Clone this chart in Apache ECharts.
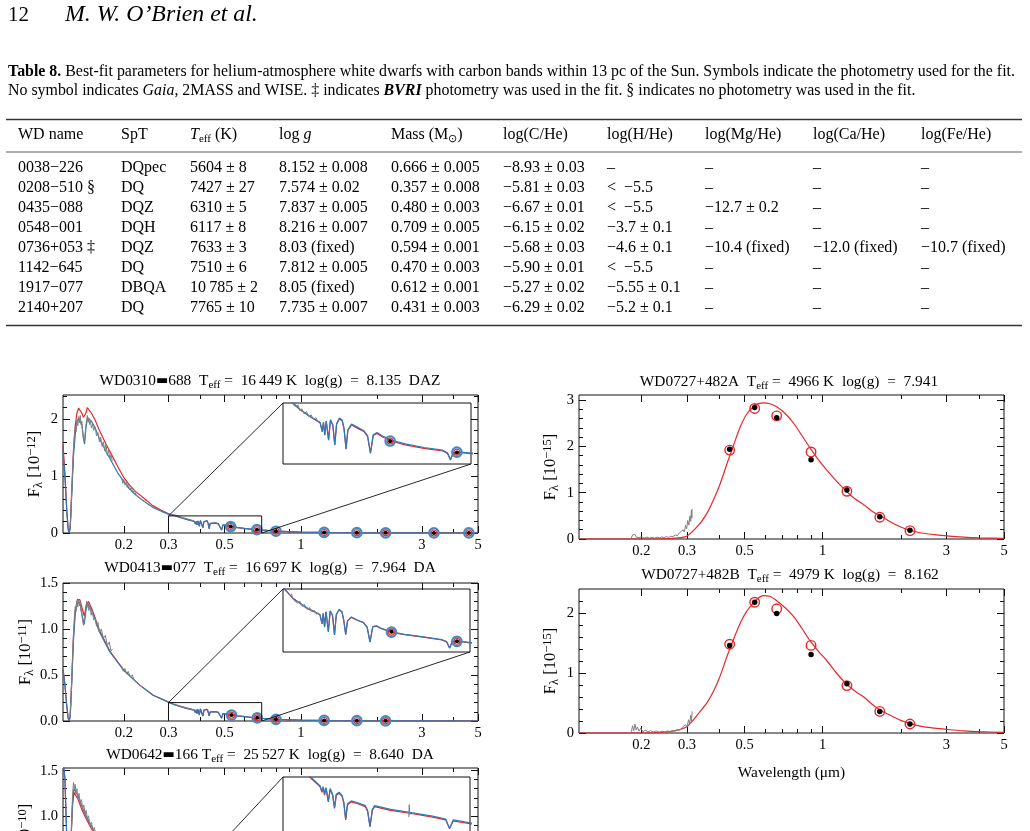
<!DOCTYPE html>
<html>
<head>
<meta charset="utf-8">
<title>Table 8 and SED fits</title>
<script src="https://cdn.jsdelivr.net/npm/echarts@6.0.0/dist/echarts.min.js"></script>
<style>
html, body { margin: 0; padding: 0; background: #fff; }
#main { width: 1030px; height: 831px; }
</style>
</head>
<body>
<div id="main"></div>
<script>
// ---- Table 8 ----
const tableHead = ['WD name', 'SpT', '{it|T}{s|eff} (K)', 'log {it|g}', 'Mass (M{s|⊙})', 'log(C/He)', 'log(H/He)', 'log(Mg/He)', 'log(Ca/He)', 'log(Fe/He)']
const wdNames = ['0038−226', '0208−510 §', '0435−088', '0548−001', '0736+053 ‡', '1142−645', '1917−077', '2140+207']
const spTypes = ['DQpec', 'DQ', 'DQZ', 'DQH', 'DQZ', 'DQ', 'DBQA', 'DQ']
const teffs = ['5604 ± 8', '7427 ± 27', '6310 ± 5', '6117 ± 8', '7633 ± 3', '7510 ± 6', '10\u2009785 ± 2', '7765 ± 10']
const loggs = ['8.152 ± 0.008', '7.574 ± 0.02', '7.837 ± 0.005', '8.216 ± 0.007', '8.03 (fixed)', '7.812 ± 0.005', '8.05 (fixed)', '7.735 ± 0.007']
const masses = ['0.666 ± 0.005', '0.357 ± 0.008', '0.480 ± 0.003', '0.709 ± 0.005', '0.594 ± 0.001', '0.470 ± 0.003', '0.612 ± 0.001', '0.431 ± 0.003']
const logCHe = ['−8.93 ± 0.03', '−5.81 ± 0.03', '−6.67 ± 0.01', '−6.15 ± 0.02', '−5.68 ± 0.03', '−5.90 ± 0.01', '−5.27 ± 0.02', '−6.29 ± 0.02']
const logHHe = ['–', '<  −5.5', '<  −5.5', '−3.7 ± 0.1', '−4.6 ± 0.1', '<  −5.5', '−5.55 ± 0.1', '−5.2 ± 0.1']
const logMgHe = ['–', '–', '−12.7 ± 0.2', '–', '−10.4 (fixed)', '–', '–', '–']
const logCaHe = ['–', '–', '–', '–', '−12.0 (fixed)', '–', '–', '–']
const logFeHe = ['–', '–', '–', '–', '−10.7 (fixed)', '–', '–', '–']

// ---- axis ticks shared by the SED panels ----
const xTickValues = [0.2, 0.3, 0.5, 1, 3, 5]
const xTickLabels = ['0.2', '0.3', '0.5', '1', '3', '5']
const xMinorValues = [0.4, 0.6, 0.7, 0.8, 0.9, 2, 4]
const yTicksA = [0, 1, 2]
const yLabelsA = ['0', '1', '2']
const yTicksB = [0, 0.5, 1, 1.5]
const yLabelsB = ['0.0', '0.5', '1.0', '1.5']
const yTicksC = [0, 1, 2, 3]
const yLabelsC = ['0', '1', '2', '3']

// ---- WD0310-688 ----
const wd0310Wave = [0.115, 0.117, 0.119, 0.1205, 0.1216, 0.1228, 0.124, 0.1265, 0.1285, 0.1305,
  0.1325, 0.1345, 0.1365, 0.1385, 0.140, 0.1415, 0.1435, 0.1455, 0.149, 0.154,
  0.160, 0.170, 0.179, 0.190, 0.200, 0.210, 0.222, 0.2415, 0.260, 0.281,
  0.300, 0.321, 0.336, 0.357, 0.370, 0.379, 0.3835, 0.386, 0.3889, 0.392,
  0.397, 0.401, 0.406, 0.4102, 0.414, 0.420, 0.426, 0.430, 0.4341, 0.438,
  0.446, 0.460, 0.472, 0.480, 0.4861, 0.492, 0.500, 0.512, 0.532, 0.560,
  0.600, 0.640, 0.650, 0.6563, 0.662, 0.672, 0.700, 0.800, 1.000, 1.300,
  2.000, 3.000, 5.000]
const wd0310Red = [1.55, 1.05, 0.42, 0.08, 0.0, 0.1, 0.55, 1.45, 1.88, 2.1,
  2.19, 2.18, 2.1, 2.03, 2.0, 2.1, 2.2, 2.18, 2.1, 1.98,
  1.80, 1.56, 1.37, 1.15, 0.97, 0.85, 0.73, 0.60, 0.48, 0.40,
  0.335, 0.300, 0.268, 0.234, 0.215, 0.202, 0.160, 0.204, 0.144, 0.210,
  0.120, 0.215, 0.190, 0.095, 0.195, 0.222, 0.212, 0.170, 0.075, 0.165,
  0.192, 0.174, 0.160, 0.135, 0.054, 0.140, 0.150, 0.133, 0.112, 0.094,
  0.077, 0.064, 0.052, 0.022, 0.052, 0.057, 0.051, 0.032, 0.017, 0.009,
  0.0035, 0.0012, 0.0004]
const wd0310Blue = [1.45, 0.98, 0.38, 0.06, 0.0, 0.08, 0.5, 1.35, 1.72, 1.93,
  2.02, 2.03, 1.9, 1.66, 1.56, 1.82, 2.02, 2.03, 1.96, 1.84,
  1.66, 1.43, 1.25, 1.04, 0.90, 0.78, 0.67, 0.55, 0.45, 0.38,
  0.33, 0.300, 0.268, 0.235, 0.217, 0.204, 0.158, 0.206, 0.142, 0.212,
  0.117, 0.218, 0.193, 0.093, 0.198, 0.226, 0.216, 0.173, 0.073, 0.168,
  0.196, 0.179, 0.164, 0.139, 0.052, 0.144, 0.155, 0.138, 0.117, 0.099,
  0.081, 0.068, 0.055, 0.020, 0.055, 0.060, 0.054, 0.033, 0.017, 0.009,
  0.0035, 0.0012, 0.0004]
const wd0310Obs = [
  [0.1225, 0.10], [0.1235, 0.30], [0.1245, 0.70], [0.1255, 1.10], [0.1265, 1.45], [0.1275, 1.70],
  [0.1285, 1.86], [0.1295, 1.78], [0.1305, 1.98], [0.1315, 1.88], [0.1325, 2.04], [0.1335, 1.93],
  [0.1345, 2.06], [0.1355, 1.90], [0.1365, 1.96], [0.1375, 1.78], [0.1385, 1.66], [0.1395, 1.60],
  [0.1405, 1.72], [0.1415, 1.88], [0.1425, 1.97], [0.1435, 2.06], [0.1445, 1.94], [0.1455, 2.02],
  [0.1465, 1.90], [0.1475, 1.97], [0.149, 1.84], [0.1505, 1.92], [0.152, 1.80], [0.154, 1.86],
  [0.156, 1.70], [0.158, 1.76], [0.160, 1.60], [0.162, 1.68], [0.164, 1.52], [0.166, 1.60],
  [0.168, 1.44], [0.170, 1.56], [0.172, 1.36], [0.174, 1.46], [0.176, 1.30], [0.178, 1.38],
  [0.180, 1.26], [0.185, null],
  [0.196, 0.96], [0.198, 0.87], [0.200, 0.94], [0.202, 0.84], [0.204, 0.90], [0.206, 0.80],
  [0.208, 0.87], [0.211, 0.76], [0.214, 0.80], [0.217, 0.71], [0.220, 0.75], [0.224, 0.66],
  [0.228, 0.69], [0.232, 0.60], [0.236, 0.63], [0.240, 0.55], [0.244, 0.57], [0.250, null],
  [0.316, 0.318], [0.320, 0.296], [0.324, 0.305], [0.328, 0.280], [0.332, 0.291], [0.336, 0.262],
  [0.340, 0.272], [0.345, 0.246], [0.350, 0.258], [0.355, 0.232], [0.360, 0.242], [0.365, 0.219],
  [0.370, 0.228], [0.375, 0.205], [0.379, 0.212]]
const wd0310PhotWave = [0.528, 0.670, 0.797, 1.235, 1.662, 2.159, 3.35, 4.6]
const wd0310PhotModel = [0.113, 0.058, 0.031, 0.010, 0.005, 0.0027, 0.0011, 0.0005]
const wd0310PhotObs = [0.112, 0.057, 0.030, 0.010, 0.005, 0.0028, 0.0011, 0.0005]

// ---- WD0413-077 ----
const wd0413Wave = [0.115, 0.117, 0.119, 0.1205, 0.1216, 0.1228, 0.124, 0.1265, 0.1285, 0.131,
  0.134, 0.137, 0.1395, 0.142, 0.145, 0.150, 0.160, 0.176, 0.200, 0.231,
  0.261, 0.300, 0.321, 0.350, 0.379, 0.3835, 0.386, 0.3889, 0.392, 0.397,
  0.401, 0.406, 0.4102, 0.414, 0.420, 0.426, 0.430, 0.4341, 0.438, 0.446,
  0.460, 0.472, 0.480, 0.4861, 0.492, 0.500, 0.512, 0.534, 0.560, 0.600,
  0.640, 0.650, 0.6563, 0.662, 0.676, 0.700, 0.800, 1.000, 1.300, 2.000,
  3.000, 5.000]
const wd0413Red = [0.56, 0.40, 0.17, 0.04, 0.0, 0.06, 0.32, 0.92, 1.20, 1.32,
  1.32, 1.22, 1.14, 1.26, 1.30, 1.21, 0.99, 0.76, 0.55, 0.39,
  0.28, 0.205, 0.171, 0.140, 0.118, 0.090, 0.122, 0.080, 0.127, 0.066,
  0.130, 0.115, 0.055, 0.118, 0.134, 0.127, 0.100, 0.056, 0.098, 0.110,
  0.100, 0.093, 0.078, 0.032, 0.080, 0.082, 0.073, 0.062, 0.055, 0.047,
  0.038, 0.032, 0.013, 0.032, 0.034, 0.029, 0.018, 0.009, 0.0045, 0.0017,
  0.0006, 0.0002]
const wd0413Blue = [0.55, 0.39, 0.16, 0.03, 0.0, 0.05, 0.30, 0.88, 1.16, 1.28,
  1.29, 1.14, 1.05, 1.22, 1.27, 1.19, 0.97, 0.75, 0.55, 0.39,
  0.28, 0.205, 0.171, 0.141, 0.119, 0.089, 0.123, 0.079, 0.128, 0.064,
  0.131, 0.116, 0.054, 0.119, 0.135, 0.128, 0.101, 0.055, 0.099, 0.111,
  0.101, 0.094, 0.079, 0.031, 0.081, 0.083, 0.074, 0.063, 0.056, 0.048,
  0.039, 0.033, 0.013, 0.033, 0.035, 0.030, 0.018, 0.009, 0.0045, 0.0017,
  0.0006, 0.0002]
const wd0413Obs = [
  [0.1225, 0.05], [0.1235, 0.20], [0.1245, 0.45], [0.1255, 0.72], [0.1265, 0.95], [0.1275, 1.12],
  [0.1285, 1.24], [0.1295, 1.20], [0.1305, 1.30], [0.1315, 1.24], [0.1325, 1.32], [0.1335, 1.25],
  [0.1345, 1.30], [0.1355, 1.20], [0.1365, 1.16], [0.1375, 1.08], [0.1385, 1.04], [0.1395, 1.06],
  [0.1405, 1.14], [0.1415, 1.22], [0.1425, 1.30], [0.1435, 1.24], [0.1445, 1.28], [0.1455, 1.20],
  [0.147, 1.25], [0.1485, 1.15], [0.150, 1.20], [0.152, 1.10], [0.154, 1.13], [0.156, 1.03],
  [0.158, 1.07], [0.160, 0.97], [0.163, 1.00], [0.166, 0.90], [0.169, 0.93], [0.172, 0.82],
  [0.175, 0.86], [0.178, 0.76], [0.180, 0.78], [0.185, null],
  [0.196, 0.58], [0.199, 0.54], [0.202, 0.57], [0.205, 0.51], [0.208, 0.54], [0.212, 0.48],
  [0.216, 0.50], [0.220, 0.44], [0.224, 0.46], [0.228, 0.40], [0.232, 0.42], [0.236, 0.37], [0.250, null],
  [0.318, 0.185], [0.322, 0.166], [0.326, 0.172], [0.331, 0.155], [0.336, 0.161], [0.341, 0.145],
  [0.346, 0.151], [0.352, 0.135], [0.357, 0.141], [0.362, 0.127], [0.367, 0.132], [0.372, 0.120],
  [0.377, 0.124]]
const wd0413PhotWave = [0.532, 0.672, 0.797, 1.235, 1.662, 2.159]
const wd0413PhotModel = [0.063, 0.034, 0.018, 0.006, 0.003, 0.0015]
const wd0413PhotObs = [0.064, 0.034, 0.018, 0.006, 0.003, 0.0015]

// ---- WD0642-166 ----
const wd0642Wave = [0.115, 0.117, 0.119, 0.1205, 0.1216, 0.1228, 0.124, 0.1255, 0.127, 0.129,
  0.132, 0.136, 0.140, 0.146, 0.155, 0.170, 0.200, 0.250, 0.300, 0.357,
  0.379, 0.3835, 0.386, 0.3889, 0.392, 0.397, 0.401, 0.406, 0.4102, 0.414,
  0.420, 0.426, 0.430, 0.4341, 0.438, 0.446, 0.460, 0.476, 0.481, 0.4861,
  0.491, 0.496, 0.530, 0.571, 0.620, 0.648, 0.6563, 0.664, 0.700, 1.000,
  2.000, 5.000]
const wd0642Red = [1.62, 1.40, 0.75, 0.25, 0.02, 0.30, 0.80, 1.12, 1.26, 1.25,
  1.18, 1.08, 1.00, 0.90, 0.77, 0.60, 0.38, 0.20, 0.110, 0.066,
  0.056, 0.050, 0.055, 0.047, 0.054, 0.040, 0.053, 0.047, 0.033, 0.047,
  0.049, 0.046, 0.039, 0.021, 0.037, 0.040, 0.038, 0.035, 0.030, 0.014,
  0.031, 0.035, 0.031, 0.028, 0.024, 0.021, 0.012, 0.020, 0.017, 0.006,
  0.0012, 0.0001]
const wd0642Blue = [1.64, 1.42, 0.78, 0.26, 0.02, 0.32, 0.84, 1.17, 1.30, 1.29,
  1.22, 1.12, 1.03, 0.93, 0.80, 0.62, 0.39, 0.205, 0.112, 0.067,
  0.057, 0.051, 0.056, 0.048, 0.055, 0.041, 0.054, 0.048, 0.034, 0.048,
  0.050, 0.047, 0.040, 0.022, 0.038, 0.041, 0.039, 0.036, 0.031, 0.014,
  0.032, 0.036, 0.032, 0.029, 0.025, 0.022, 0.012, 0.021, 0.018, 0.006,
  0.0012, 0.0001]
const wd0642Obs = [
  [0.1235, 0.60], [0.1245, 0.95], [0.1255, 1.25], [0.1265, 1.37], [0.1275, 1.30], [0.1285, 1.35],
  [0.1295, 1.24], [0.1305, 1.30], [0.1315, 1.20], [0.133, 1.25], [0.1345, 1.14], [0.136, 1.18],
  [0.1375, 1.08], [0.139, 1.12], [0.1405, 1.02], [0.142, 1.06], [0.1435, 0.96], [0.145, 1.00],
  [0.147, 0.90], [0.149, 0.93], [0.151, 0.84], [0.153, 0.87], [0.155, 0.78], [0.160, null],
  [0.569, 0.024], [0.570, 0.037], [0.571, 0.026]]

// ---- WD0727+482A / B ----
const wd0727Wave = [0.115, 0.200, 0.240, 0.270, 0.300, 0.337, 0.360, 0.379, 0.400, 0.428,
  0.455, 0.481, 0.510, 0.542, 0.568, 0.592, 0.625, 0.667, 0.720, 0.773,
  0.830, 0.896, 0.960, 1.040, 1.130, 1.240, 1.330, 1.440, 1.550, 1.670,
  1.850, 2.000, 2.150, 2.400, 2.700, 3.000, 3.500, 4.000, 5.000]
const wd0727aModel = [0.0, 0.0, 0.005, 0.02, 0.065, 0.34, 0.58, 0.84, 1.15, 1.63,
  2.05, 2.42, 2.70, 2.86, 2.93, 2.94, 2.92, 2.85, 2.70, 2.50,
  2.24, 1.96, 1.72, 1.48, 1.25, 1.02, 0.87, 0.74, 0.60, 0.50,
  0.35, 0.26, 0.195, 0.13, 0.095, 0.068, 0.04, 0.025, 0.012]
const wd0727bModel = [0.0, 0.0, 0.01, 0.04, 0.11, 0.36, 0.52, 0.69, 0.92, 1.28,
  1.58, 1.83, 2.03, 2.17, 2.26, 2.29, 2.28, 2.20, 2.08, 1.94,
  1.75, 1.53, 1.37, 1.20, 1.00, 0.81, 0.70, 0.60, 0.48, 0.38,
  0.28, 0.21, 0.165, 0.11, 0.08, 0.06, 0.035, 0.022, 0.01]
const wd0727aObs = [
  [0.183, 0.02], [0.185, 0.09], [0.187, 0.05], [0.189, 0.10], [0.191, 0.04], [0.193, 0.07],
  [0.196, 0.03], [0.200, 0.05], [0.205, 0.02], [0.210, 0.04], [0.215, 0.02], [0.220, 0.035],
  [0.225, 0.02], [0.230, 0.04], [0.235, 0.025], [0.240, 0.045], [0.245, 0.03], [0.250, 0.05],
  [0.255, 0.035], [0.260, 0.06], [0.265, 0.05], [0.270, 0.09], [0.275, 0.07], [0.280, 0.13],
  [0.285, 0.10], [0.290, 0.20], [0.293, 0.15], [0.296, 0.30], [0.299, 0.22], [0.302, 0.40],
  [0.305, 0.30], [0.308, 0.50], [0.310, 0.38], [0.312, 0.62], [0.313, 0.45], [0.314, 0.65]]
const wd0727bObs = [
  [0.183, 0.02], [0.185, 0.12], [0.187, 0.04], [0.189, 0.15], [0.191, 0.05], [0.193, 0.10],
  [0.196, 0.03], [0.199, 0.08], [0.203, 0.02], [0.207, 0.05], [0.212, 0.02], [0.217, 0.04],
  [0.222, 0.015], [0.228, 0.035], [0.234, 0.015], [0.240, 0.03], [0.246, 0.015], [0.252, 0.035],
  [0.258, 0.02], [0.264, 0.04], [0.270, 0.03], [0.276, 0.06], [0.282, 0.045], [0.287, 0.09],
  [0.292, 0.07], [0.296, 0.14], [0.300, 0.10], [0.304, 0.22], [0.307, 0.15], [0.310, 0.30],
  [0.312, 0.20], [0.314, 0.36]]
const wd0727PhotWave = [0.438, 0.547, 0.665, 0.902, 1.24, 1.66, 2.17]
const wd0727aPhotModel = [1.92, 2.82, 2.66, 1.88, 1.03, 0.47, 0.18]
const wd0727aPhotObs = [1.94, 2.84, 2.62, 1.71, 1.06, 0.48, 0.19]
const wd0727bPhotModel = [1.48, 2.18, 2.07, 1.46, 0.79, 0.36, 0.15]
const wd0727bPhotObs = [1.46, 2.18, 1.99, 1.31, 0.82, 0.36, 0.15]

const SERIF = 'Liberation Serif'
const RED = '#e8262b'
const BLUE = '#2b7bba'
const GRAY = '#808080'
const XMIN = 0.115
const XMAX = 5

const panels = [
  { rect: [63, 395, 415, 138], ymax: 2.42, yTicks: yTicksA, yLabels: yLabelsA, yMinor: 0.2,
    yName: 'F{s|λ} [10{u|−12}]', title: 'WD0310{d|▬}688  T{s|eff} =  16\u2009449 K  log(g)  =  8.135  DAZ',
    titleX: 270, titleY: 381, wave: wd0310Wave, red: wd0310Red, blue: wd0310Blue, obs: wd0310Obs,
    photWave: wd0310PhotWave, photModel: wd0310PhotModel, photObs: wd0310PhotObs,
    inset: { rect: [283, 403, 188, 61], xmin: 0.3, xmax: 0.7, ymax: 0.30 } },
  { rect: [63, 583, 415, 138], ymax: 1.5, yTicks: yTicksB, yLabels: yLabelsB, yMinor: 0.1,
    yName: 'F{s|λ} [10{u|−11}]', title: 'WD0413{d|▬}077  T{s|eff} =  16\u2009697 K  log(g)  =  7.964  DA',
    titleX: 270, titleY: 568, wave: wd0413Wave, red: wd0413Red, blue: wd0413Blue, obs: wd0413Obs,
    photWave: wd0413PhotWave, photModel: wd0413PhotModel, photObs: wd0413PhotObs,
    inset: { rect: [283, 589, 187, 63], xmin: 0.3, xmax: 0.7, ymax: 0.20 } },
  { rect: [63, 768, 415, 138], ymax: 1.53, yTicks: yTicksB, yLabels: yLabelsB, yMinor: 0.1,
    yName: 'F{s|λ} [10{u|−10}]', title: 'WD0642{d|▬}166 T{s|eff} =  25\u2009527 K  log(g)  =  8.640  DA',
    titleX: 270, titleY: 755, wave: wd0642Wave, red: wd0642Red, blue: wd0642Blue, obs: wd0642Obs,
    inset: { rect: [283, 777, 187, 63], xmin: 0.3, xmax: 0.7, ymax: 0.066 } },
  { rect: [579, 395, 425, 144], ymax: 3.11, yTicks: yTicksC, yLabels: yLabelsC, yMinor: 0.2,
    yName: 'F{s|λ} [10{u|−15}]', title: 'WD0727+482A  T{s|eff} =  4966 K  log(g)  =  7.941',
    titleX: 789, titleY: 382, wave: wd0727Wave, red: wd0727aModel, obs: wd0727aObs, smooth: true,
    photWave: wd0727PhotWave, photModel: wd0727aPhotModel, photObs: wd0727aPhotObs, redRings: true },
  { rect: [579, 589, 425, 144], ymax: 2.4, yTicks: yTicksA, yLabels: yLabelsA, yMinor: 0.2,
    yName: 'F{s|λ} [10{u|−15}]', title: 'WD0727+482B  T{s|eff} =  4979 K  log(g)  =  8.162',
    titleX: 790, titleY: 575, wave: wd0727Wave, red: wd0727bModel, obs: wd0727bObs, smooth: true,
    photWave: wd0727PhotWave, photModel: wd0727bPhotModel, photObs: wd0727bPhotObs, redRings: true,
    xName: 'Wavelength (μm)' }
]

const chart = echarts.init(document.getElementById('main'))
const option = { animation: false, backgroundColor: '#fff', grid: [], xAxis: [], yAxis: [], series: [], graphic: [] }
const links = []

const richFont = (size, more) => Object.assign({ fontFamily: SERIF, fontSize: size, fill: '#000' }, more || {})
const labelFont = (size, more) => Object.assign({ fontFamily: SERIF, fontSize: size, color: '#000' }, more || {})

function text (x, y, str, size, style) {
  return {
    type: 'text', x, y, silent: true, z: 10,
    style: Object.assign({ text: str, fontFamily: SERIF, fontSize: size, fill: '#000', textAlign: 'left', textVerticalAlign: 'middle' }, style || {})
  }
}

function addGrid (r) {
  option.grid.push({ left: r[0], top: r[1], width: r[2], height: r[3], show: true, borderColor: '#111', borderWidth: 1, outerBoundsMode: 'none', containLabel: false })
  return option.grid.length - 1
}
function addX (a) { option.xAxis.push(a); return option.xAxis.length - 1 }
function addY (a) { option.yAxis.push(a); return option.yAxis.length - 1 }

function tickAxis (grid, pos, min, max, ticks, len, label, extra) {
  return Object.assign({
    gridIndex: grid, type: 'value', position: pos, min, max,
    axisLine: { show: false, onZero: false },
    splitLine: { show: false },
    axisTick: { show: true, inside: true, length: len, customValues: ticks, lineStyle: { color: '#111', width: 1 } },
    axisLabel: label || { show: false },
    axisPointer: { show: false }
  }, extra || {})
}

function labelFor (v, vals, labels) {
  const i = vals.findIndex(t => Math.abs(t - v) < 1e-6)
  return i < 0 ? '' : labels[i]
}

function minorTicks (ymax, step, majors) {
  const out = []
  for (let k = 1; k * step < ymax; k++) {
    const v = +(k * step).toFixed(6)
    if (!majors.some(m => Math.abs(m - v) < 1e-6)) out.push(v)
  }
  return out
}

function lineSeries (xi, yi, data, color, width, smooth) {
  return { type: 'line', xAxisIndex: xi, yAxisIndex: yi, data, symbol: 'none', smooth: smooth ? 0.3 : false,
    lineStyle: { color, width }, silent: true, clip: true, z: 2 }
}
function dotSeries (xi, yi, data, size, fill, stroke, bw) {
  return { type: 'scatter', xAxisIndex: xi, yAxisIndex: yi, data, symbol: 'circle', symbolSize: size,
    itemStyle: { color: fill, borderColor: stroke, borderWidth: bw, opacity: 1 }, silent: true, clip: true, z: 3 }
}

function drawData (p, xi, yi, fx) {
  const pts = (w, f) => w.map((x, i) => [fx(x), f[i]])
  option.series.push(lineSeries(xi, yi, pts(p.wave, p.red), RED, 1.2, p.smooth))
  if (p.blue) option.series.push(lineSeries(xi, yi, pts(p.wave, p.blue), BLUE, 1.2))
  option.series.push(lineSeries(xi, yi, p.obs.map(d => [fx(d[0]), d[1] == null ? '-' : d[1]]), GRAY, 1))
  if (!p.photWave) return
  if (p.redRings) {
    option.series.push(dotSeries(xi, yi, pts(p.photWave, p.photModel), 9.5, 'rgba(0,0,0,0)', RED, 1.4))
    option.series.push(dotSeries(xi, yi, pts(p.photWave, p.photObs), 5.5, '#000', '#000', 0))
  } else {
    option.series.push(dotSeries(xi, yi, pts(p.photWave, p.photModel), 9.5, 'rgba(0,0,0,0)', '#3f8bc6', 2.2))
    option.series.push(dotSeries(xi, yi, pts(p.photWave, p.photModel), 6, 'rgba(0,0,0,0)', RED, 1.1))
    option.series.push(dotSeries(xi, yi, pts(p.photWave, p.photObs), 4, '#000', '#000', 0))
  }
}

const TITLE = 15.4
const TABLE = 16
const CAPTION = 15.9
const titleRich = {
  s: richFont(11, { lineHeight: 9, verticalAlign: 'bottom' }),
  d: { fontFamily: 'DejaVu Sans', fontSize: 13, fill: '#000', lineHeight: 19 }
}
const tableRich = {
  s: richFont(11, { lineHeight: 9, verticalAlign: 'bottom' }),
  it: richFont(TABLE, { fontStyle: 'italic', lineHeight: 19 })
}

function buildPanel (p) {
  const g = addGrid(p.rect)
  const lo = Math.log10(XMIN)
  const hi = Math.log10(XMAX)
  const xMaj = xTickValues.map(v => Math.log10(v))
  const xMin = xMinorValues.map(v => Math.log10(v))
  const xName = p.xName ? { name: p.xName, nameLocation: 'middle', nameGap: 32, nameTextStyle: labelFont(15.4) } : null
  const xb = addX(tickAxis(g, 'bottom', lo, hi, xMaj, 7, labelFont(14.5, {
    show: true, customValues: xMaj, margin: 5, formatter: v => labelFor(v, xMaj, xTickLabels)
  }), xName))
  addX(tickAxis(g, 'bottom', lo, hi, xMin, 4))
  addX(tickAxis(g, 'top', lo, hi, xMaj, 7))
  addX(tickAxis(g, 'top', lo, hi, xMin, 4))
  const yMin = minorTicks(p.ymax, p.yMinor, p.yTicks)
  const yl = addY(tickAxis(g, 'left', 0, p.ymax, p.yTicks, 7, labelFont(14.5, {
    show: true, customValues: p.yTicks, margin: 5, formatter: v => labelFor(v, p.yTicks, p.yLabels)
  }), {
    name: p.yName, nameLocation: 'middle', nameGap: 18, nameRotate: 90,
    nameTextStyle: labelFont(16.5, { lineHeight: 20, rich: {
      s: labelFont(12.5, { lineHeight: 9, verticalAlign: 'bottom' }),
      u: labelFont(12.5, { lineHeight: 9, verticalAlign: 'top' })
    } })
  }))
  addY(tickAxis(g, 'left', 0, p.ymax, yMin, 4))
  addY(tickAxis(g, 'right', 0, p.ymax, p.yTicks, 7))
  addY(tickAxis(g, 'right', 0, p.ymax, yMin, 4))
  drawData(p, xb, yl, v => Math.log10(v))

  if (p.inset) {
    const ig = addGrid(p.inset.rect)
    const ix = addX({ gridIndex: ig, type: 'value', min: p.inset.xmin, max: p.inset.xmax, show: false })
    const iy = addY({ gridIndex: ig, type: 'value', min: 0, max: p.inset.ymax, show: false })
    drawData(p, ix, iy, v => v)
    links.push(Object.assign({ mx: xb, my: yl, ix, iy }, p.inset))
  }

  option.graphic.push(text(p.titleX, p.titleY, p.title, TITLE, { textAlign: 'center', lineHeight: 19, rich: titleRich }))
}

panels.forEach(buildPanel)

// ---- page header, caption and table ----
option.graphic.push(text(8, 15, '12', 21))
option.graphic.push(text(65, 15, 'M. W. O’Brien et al.', 23.8, { fontStyle: 'italic' }))
const capRich = {
  b: richFont(CAPTION, { fontWeight: 'bold' }),
  i: richFont(CAPTION, { fontStyle: 'italic' }),
  bi: richFont(CAPTION, { fontStyle: 'italic', fontWeight: 'bold' })
}
option.graphic.push(text(8, 72, '{b|Table 8.} Best-fit parameters for helium-atmosphere white dwarfs with carbon bands within 13 pc of the Sun. Symbols indicate the photometry used for the fit.', CAPTION, { rich: capRich }))
option.graphic.push(text(8, 91, 'No symbol indicates {i|Gaia}, 2MASS and WISE. ‡ indicates {bi|BVRI} photometry was used in the fit. § indicates no photometry was used in the fit.', CAPTION, { rich: capRich }))

const colX = [18, 121, 190, 279, 391, 503, 607, 705, 813, 921]
const rule = (y, w) => ({ type: 'line', silent: true, z: 10, shape: { x1: 6, y1: y, x2: 1022, y2: y }, style: { stroke: '#333', lineWidth: w } })
option.graphic.push(rule(119.5, 1.3), rule(152, 0.8), rule(325.5, 1.3))
tableHead.forEach((h, c) => option.graphic.push(text(colX[c], 135, h, TABLE, { lineHeight: 19, rich: tableRich })))
const columns = [wdNames, spTypes, teffs, loggs, masses, logCHe, logHHe, logMgHe, logCaHe, logFeHe]
columns.forEach((col, c) => col.forEach((v, r) => option.graphic.push(text(colX[c], 168 + r * 20, v, TABLE))))

chart.setOption(option)

// zoom boxes and connector lines, placed through the axes of the main plot and inset
const extra = []
links.forEach(k => {
  const toPx = (xi, yi, pt) => chart.convertToPixel({ xAxisIndex: xi, yAxisIndex: yi }, pt)
  const b0 = toPx(k.mx, k.my, [Math.log10(k.xmin), 0])
  const b1 = toPx(k.mx, k.my, [Math.log10(k.xmax), k.ymax])
  const i0 = toPx(k.ix, k.iy, [k.xmin, k.ymax])
  const i1 = toPx(k.ix, k.iy, [k.xmax, 0])
  extra.push({ type: 'polyline', silent: true, z: 10,
    shape: { points: [[b0[0], b0[1]], [b0[0], b1[1]], [b1[0], b1[1]], [b1[0], b0[1]]] },
    style: { stroke: '#111', lineWidth: 1, fill: null } })
  extra.push({ type: 'line', silent: true, z: 10, shape: { x1: b0[0], y1: b1[1], x2: i0[0], y2: i0[1] }, style: { stroke: '#111', lineWidth: 0.9 } })
  extra.push({ type: 'line', silent: true, z: 10, shape: { x1: b1[0], y1: b0[1], x2: i1[0], y2: i1[1] }, style: { stroke: '#111', lineWidth: 0.9 } })
})
option.graphic = option.graphic.concat(extra)
chart.setOption(option, true)
</script>
</body>
</html>
